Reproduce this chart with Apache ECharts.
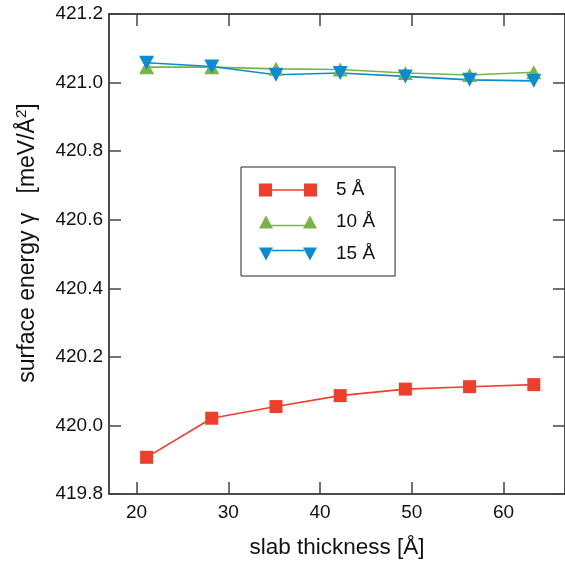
<!DOCTYPE html>
<html>
<head>
<meta charset="utf-8">
<script src="https://cdn.jsdelivr.net/npm/echarts@6/dist/echarts.min.js"></script>
<style>html,body{margin:0;padding:0;background:#fff;}#c{width:565px;height:564px;}</style>
</head>
<body>
<div id="c"></div>
<script>
const thickness = [21.1, 28.2, 35.2, 42.2, 49.3, 56.3, 63.3];
const vac5 = [419.907, 420.021, 420.055, 420.087, 420.106, 420.113, 420.119];
const vac10 = [421.045, 421.045, 421.040, 421.038, 421.028, 421.022, 421.030];
const vac15 = [421.058, 421.047, 421.023, 421.028, 421.018, 421.008, 421.005];
const seriesNames = ['5 Å', '10 Å', '15 Å'];
const xTicks = [20, 30, 40, 50, 60];

const FONT = '"Liberation Sans", Arial, sans-serif';
const colors = ['#EE3F2C', '#7AB446', '#0A8DD0'];
const pair = (arr) => thickness.map((x, i) => [x, arr[i]]);

const iconSquare = 'path://M0,0H13V13H0Z M45,0H58V13H45Z M13,5.8H45V7.2H13Z';
const iconUp = 'path://M0,13L7,0L14,13Z M44,13L51,0L58,13Z M12,9.3H46V10.7H12Z';
const iconDown = 'path://M0,0L7,13L14,0Z M44,0L51,13L58,0Z M12,2.3H46V3.7H12Z';

const tickStyle = {color: '#444', width: 1.5};
const chart = echarts.init(document.getElementById('c'), null, {renderer: 'canvas'});
chart.setOption({
  animation: false,
  backgroundColor: '#fff',
  color: colors,
  grid: {left: 109, top: 14, right: 0, bottom: 66},
  legend: {
    orient: 'vertical',
    left: 241, top: 167,
    padding: [13, 20, 12, 18],
    itemGap: 12,
    itemWidth: 58, itemHeight: 13,
    symbolKeepAspect: false,
    borderColor: '#222', borderWidth: 1,
    itemStyle: {borderWidth: 0},
    textStyle: {fontFamily: FONT, fontSize: 19, color: '#111', lineHeight: 20, padding: [0, 0, 0, 14]},
    data: [
      {name: seriesNames[0], icon: iconSquare},
      {name: seriesNames[1], icon: iconUp},
      {name: seriesNames[2], icon: iconDown}
    ]
  },
  xAxis: [{
    type: 'value', min: 17, max: 66.7,
    name: 'slab thickness [Å]', nameLocation: 'middle', nameGap: 42,
    nameTextStyle: {fontFamily: FONT, fontSize: 22.5, color: '#111'},
    axisLine: {show: true, lineStyle: {color: '#111', width: 1.5}},
    axisTick: {show: true, inside: true, length: 12, lineStyle: tickStyle, customValues: xTicks},
    axisLabel: {fontFamily: FONT, fontSize: 19, color: '#111', margin: 9, customValues: xTicks},
    splitLine: {show: false}
  }, {
    type: 'value', min: 17, max: 66.7, position: 'top',
    axisLine: {show: true, lineStyle: {color: '#111', width: 1.5}},
    axisTick: {show: true, inside: true, length: 12, lineStyle: tickStyle, customValues: xTicks},
    axisLabel: {show: false},
    splitLine: {show: false}
  }],
  yAxis: [{
    type: 'value', min: 419.8, max: 421.2, interval: 0.2,
    name: 'surface energy γ   [meV/Å{sup|2}]', nameLocation: 'middle', nameGap: 68,
    nameTextStyle: {fontFamily: FONT, fontSize: 23, color: '#111', padding: [0, 0, 0, 22],
      rich: {sup: {fontFamily: FONT, fontSize: 15, color: '#111', padding: [0, 0, 12, 0]}}},
    axisLine: {show: true, lineStyle: {color: '#111', width: 1.5}},
    axisTick: {show: true, inside: true, length: 12, lineStyle: tickStyle},
    axisLabel: {fontFamily: FONT, fontSize: 19, color: '#111', margin: 6, formatter: v => v.toFixed(1)},
    splitLine: {show: false}
  }, {
    type: 'value', min: 419.8, max: 421.2, interval: 0.2, position: 'right',
    axisLine: {show: true, lineStyle: {color: '#111', width: 1.5}},
    axisTick: {show: true, inside: true, length: 12, lineStyle: tickStyle},
    axisLabel: {show: false},
    splitLine: {show: false}
  }],
  series: [
    {name: seriesNames[0], type: 'line', data: pair(vac5), symbol: 'rect', symbolSize: 13,
     lineStyle: {width: 1.6, color: colors[0]}, itemStyle: {color: colors[0]}},
    {name: seriesNames[1], type: 'line', data: pair(vac10), symbol: 'triangle', symbolSize: [15, 14],
     lineStyle: {width: 1.6, color: colors[1]}, itemStyle: {color: colors[1]}},
    {name: seriesNames[2], type: 'line', data: pair(vac15), symbol: 'triangle', symbolRotate: 180, symbolSize: [15, 14],
     lineStyle: {width: 1.6, color: colors[2]}, itemStyle: {color: colors[2]}}
  ]
});
</script>
</body>
</html>
